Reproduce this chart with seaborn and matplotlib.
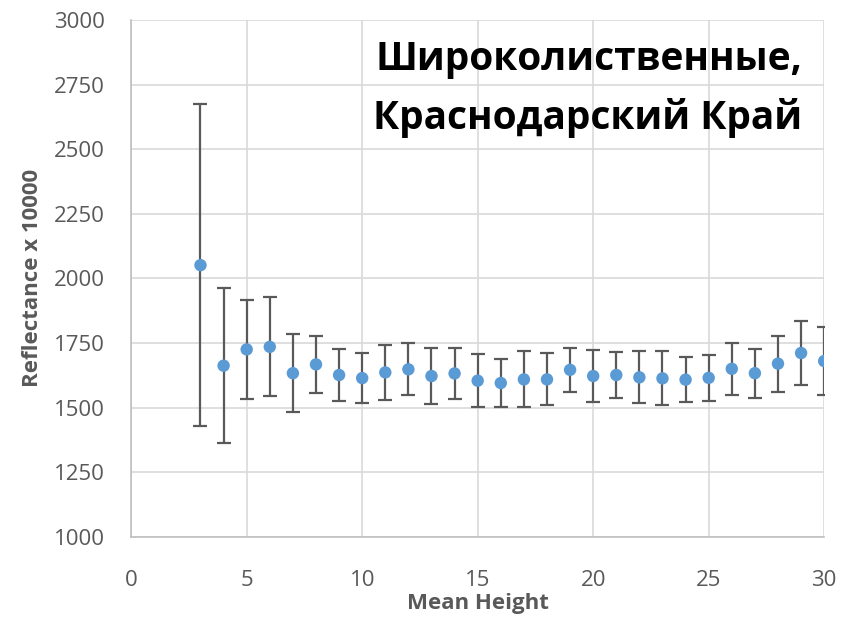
import pandas as pd
import matplotlib
matplotlib.use("Agg")
import matplotlib.pyplot as plt
import seaborn as sns

# values
height = [3, 4, 5, 6, 7, 8, 9, 10, 11, 12, 13, 14, 15, 16,
          17, 18, 19, 20, 21, 22, 23, 24, 25, 26, 27, 28, 29, 30]
reflectance = [2051, 1662, 1725, 1735, 1633, 1667, 1626, 1614, 1636, 1648, 1622, 1632, 1604, 1595,
               1609, 1609, 1646, 1622, 1626, 1617, 1613, 1608, 1615, 1650, 1633, 1670, 1711, 1680]
err = [622, 301, 192, 192, 150, 109, 100, 98, 107, 101, 110, 98, 102, 93,
       108, 101, 84, 100, 89, 101, 104, 86, 88, 101, 95, 108, 124, 132]

df = pd.DataFrame({"height": height, "refl": reflectance, "err": err})

sns.set_theme(style="whitegrid")
plt.rcParams["font.family"] = ["Open Sans", "DejaVu Sans"]

fig = plt.figure(figsize=(8.41, 6.22), dpi=100)
ax = fig.add_axes([0.156, 0.137, 0.824, 0.831])

ax.errorbar(df["height"], df["refl"], yerr=df["err"], fmt="none",
            ecolor="#595959", elinewidth=1.6, capsize=4.7, capthick=1.6, zorder=2)
sns.scatterplot(data=df, x="height", y="refl", ax=ax, color="#5B9BD5",
                s=80, edgecolor="none", zorder=3)

ax.set_xlim(0, 30)
ax.set_ylim(1000, 3000)
ax.set_xticks(range(0, 31, 5))
ax.set_yticks(range(1000, 3001, 250))

ax.grid(True, color="#D9D9D9", linewidth=1.2)
for side in ["top", "right"]:
    ax.spines[side].set_visible(False)
for side in ["left", "bottom"]:
    ax.spines[side].set_color("#BFBFBF")
    ax.spines[side].set_linewidth(1.2)

ax.tick_params(axis="both", labelsize=16, colors="#595959", length=0)
ax.tick_params(axis="x", pad=24)
ax.tick_params(axis="y", pad=19)
ax.set_xlabel("Mean Height", fontsize=16, fontweight="bold", color="#595959", labelpad=1)
ax.set_ylabel("Reflectance x 10000", fontsize=16, fontweight="bold", color="#595959", labelpad=8)

ax.text(0.968, 0.962, "Широколиственные,\nКраснодарский Край", transform=ax.transAxes,
        ha="right", va="top", fontsize=28, fontweight="bold", color="black",
        linespacing=1.62)

fig.savefig("out.png", dpi=100)
